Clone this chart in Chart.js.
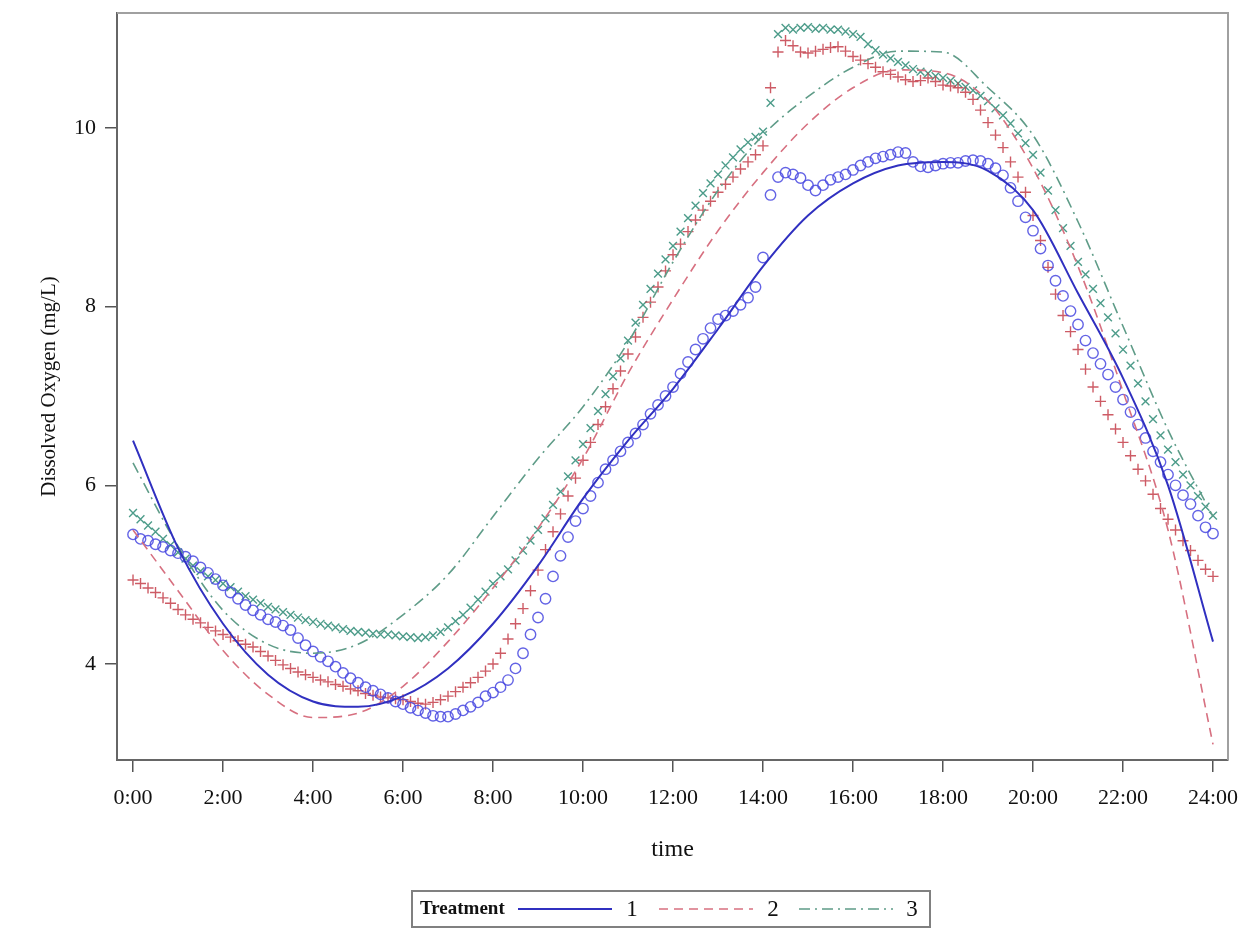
<!DOCTYPE html>
<html>
<head>
<meta charset="utf-8">
<title>Dissolved Oxygen by Treatment</title>
<script src="https://cdn.jsdelivr.net/npm/chart.js@4.4.1/dist/chart.umd.min.js"></script>
<style>
  html, body { margin: 0; padding: 0; background: #fff; }
  #wrap { width: 1258px; height: 944px; }
</style>
</head>
<body>
<div id="wrap"><canvas id="doChart" width="1258" height="944"></canvas></div>
<script>
/* sampling times of the logger, minutes after midnight */
const sampleMinutes = [
  0, 10, 20, 30, 40, 50, 60, 70, 80, 90, 100, 110,
  120, 130, 140, 150, 160, 170, 180, 190, 200, 210, 220, 230,
  240, 250, 260, 270, 280, 290, 300, 310, 320, 330, 340, 350,
  360, 370, 380, 390, 400, 410, 420, 430, 440, 450, 460, 470,
  480, 490, 500, 510, 520, 530, 540, 550, 560, 570, 580, 590,
  600, 610, 620, 630, 640, 650, 660, 670, 680, 690, 700, 710,
  720, 730, 740, 750, 760, 770, 780, 790, 800, 810, 820, 830,
  840, 850, 860, 870, 880, 890, 900, 910, 920, 930, 940, 950,
  960, 970, 980, 990, 1000, 1010, 1020, 1030, 1040, 1050, 1060, 1070,
  1080, 1090, 1100, 1110, 1120, 1130, 1140, 1150, 1160, 1170, 1180, 1190,
  1200, 1210, 1220, 1230, 1240, 1250, 1260, 1270, 1280, 1290, 1300, 1310,
  1320, 1330, 1340, 1350, 1360, 1370, 1380, 1390, 1400, 1410, 1420, 1430,
  1440
];

/* measured dissolved oxygen (mg/L), one row per hour */
const treatment1DO = [
  5.45, 5.40, 5.38, 5.34, 5.31, 5.27,
  5.24, 5.20, 5.15, 5.08, 5.02, 4.95,
  4.88, 4.80, 4.73, 4.66, 4.60, 4.55,
  4.50, 4.47, 4.43, 4.38, 4.29, 4.21,
  4.14, 4.08, 4.03, 3.97, 3.90, 3.84,
  3.79, 3.74, 3.70, 3.66, 3.62, 3.58,
  3.55, 3.51, 3.48, 3.45, 3.42, 3.41,
  3.41, 3.44, 3.48, 3.52, 3.57, 3.64,
  3.68, 3.74, 3.82, 3.95, 4.12, 4.33,
  4.52, 4.73, 4.98, 5.21, 5.42, 5.60,
  5.74, 5.88, 6.03, 6.18, 6.28, 6.38,
  6.48, 6.58, 6.68, 6.80, 6.90, 7.00,
  7.10, 7.25, 7.38, 7.52, 7.64, 7.76,
  7.86, 7.90, 7.95, 8.02, 8.10, 8.22,
  8.55, 9.25, 9.45, 9.50, 9.48, 9.44,
  9.36, 9.30, 9.36, 9.42, 9.45, 9.48,
  9.53, 9.58, 9.62, 9.66, 9.68, 9.70,
  9.73, 9.72, 9.62, 9.57, 9.56, 9.58,
  9.60, 9.61, 9.61, 9.63, 9.64, 9.63,
  9.60, 9.55, 9.47, 9.33, 9.18, 9.00,
  8.85, 8.65, 8.46, 8.29, 8.12, 7.95,
  7.80, 7.62, 7.48, 7.36, 7.24, 7.10,
  6.96, 6.82, 6.68, 6.53, 6.38, 6.26,
  6.12, 6.00, 5.89, 5.79, 5.66, 5.53,
  5.46
];

const treatment2DO = [
  4.94, 4.90, 4.85, 4.80, 4.74, 4.68,
  4.61, 4.55, 4.50, 4.46, 4.41, 4.37,
  4.33, 4.30, 4.26, 4.22, 4.19, 4.14,
  4.09, 4.04, 3.99, 3.95, 3.91, 3.88,
  3.85, 3.82, 3.80, 3.77, 3.75, 3.72,
  3.70, 3.67, 3.65, 3.63, 3.62, 3.61,
  3.60, 3.58, 3.56, 3.55, 3.57, 3.60,
  3.64, 3.69, 3.74, 3.79, 3.85, 3.92,
  4.00, 4.12, 4.28, 4.45, 4.62, 4.82,
  5.05, 5.28, 5.48, 5.68, 5.88, 6.08,
  6.28, 6.48, 6.68, 6.88, 7.08, 7.28,
  7.47, 7.66, 7.88, 8.05, 8.22, 8.40,
  8.58, 8.70, 8.84, 8.97, 9.08, 9.18,
  9.28, 9.37, 9.45, 9.54, 9.62, 9.70,
  9.80, 10.45, 10.85, 10.98, 10.92, 10.85,
  10.84, 10.86, 10.88, 10.90, 10.91, 10.86,
  10.80, 10.76, 10.72, 10.68, 10.63, 10.60,
  10.57, 10.54, 10.52, 10.53, 10.56, 10.52,
  10.48, 10.47, 10.45, 10.40, 10.32, 10.20,
  10.06, 9.92, 9.78, 9.62, 9.45, 9.28,
  9.02, 8.74, 8.44, 8.14, 7.90, 7.72,
  7.52, 7.30, 7.10, 6.94, 6.79, 6.63,
  6.48, 6.33, 6.18, 6.05, 5.90, 5.74,
  5.62, 5.50, 5.38, 5.27, 5.16, 5.06,
  4.98
];

const treatment3DO = [
  5.69, 5.62, 5.55, 5.48, 5.40, 5.33,
  5.25, 5.18, 5.10, 5.04, 4.98, 4.94,
  4.90, 4.86, 4.81, 4.76, 4.72, 4.68,
  4.64, 4.61, 4.58, 4.55, 4.52, 4.49,
  4.47, 4.45, 4.43, 4.41, 4.39, 4.37,
  4.36, 4.35, 4.34, 4.33, 4.33, 4.32,
  4.31, 4.30, 4.29, 4.30, 4.32, 4.36,
  4.41, 4.48, 4.55, 4.63, 4.72, 4.81,
  4.90, 4.98, 5.06, 5.16, 5.27, 5.38,
  5.50, 5.63, 5.78, 5.93, 6.10, 6.28,
  6.46, 6.64, 6.83, 7.02, 7.22, 7.42,
  7.62, 7.82, 8.02, 8.20, 8.37, 8.53,
  8.68, 8.84, 8.99, 9.13, 9.27, 9.38,
  9.48, 9.58, 9.67, 9.76, 9.84, 9.90,
  9.96, 10.28, 11.05, 11.12, 11.10, 11.12,
  11.13, 11.11, 11.12, 11.10, 11.10, 11.08,
  11.05, 11.02, 10.94, 10.87, 10.82, 10.78,
  10.74, 10.70, 10.66, 10.63, 10.61, 10.58,
  10.56, 10.53, 10.50, 10.46, 10.42, 10.36,
  10.30, 10.22, 10.14, 10.05, 9.94, 9.83,
  9.70, 9.50, 9.30, 9.08, 8.88, 8.68,
  8.50, 8.36, 8.20, 8.04, 7.88, 7.70,
  7.52, 7.34, 7.14, 6.94, 6.74, 6.56,
  6.40, 6.26, 6.12, 6.00, 5.88, 5.76,
  5.66
];

/* fitted curves, read hourly */
const fitHours = [0, 1, 2, 3, 4, 5, 6, 7, 8, 9, 10, 11, 12, 13, 14, 15, 16, 17, 18, 19, 20, 21, 22, 23, 24];
const treatment1Fit = [6.50, 5.30, 4.45, 3.88, 3.58, 3.52, 3.64, 3.95, 4.45, 5.10, 5.85, 6.50, 7.08, 7.75, 8.45, 9.02, 9.38, 9.58, 9.62, 9.52, 9.08, 8.15, 7.20, 6.00, 4.25];
const treatment2Fit = [5.50, 4.82, 4.15, 3.66, 3.40, 3.45, 3.75, 4.25, 4.85, 5.52, 6.30, 7.25, 8.08, 8.85, 9.50, 10.05, 10.45, 10.65, 10.62, 10.30, 9.55, 8.45, 7.05, 5.50, 3.10];
const treatment3Fit = [6.25, 5.32, 4.60, 4.22, 4.12, 4.22, 4.55, 5.00, 5.65, 6.30, 6.88, 7.60, 8.50, 9.30, 9.92, 10.35, 10.68, 10.86, 10.85, 10.45, 9.92, 8.95, 7.78, 6.62, 5.65];

const treatmentNames = ['1', '2', '3'];
const xTickHours = [0, 2, 4, 6, 8, 10, 12, 14, 16, 18, 20, 22, 24];
const timeTickLabels = ['0:00', '2:00', '4:00', '6:00', '8:00', '10:00', '12:00', '14:00', '16:00', '18:00', '20:00', '22:00', '24:00'];
const yTickValues = [4, 6, 8, 10];

const serif = '"Liberation Serif", "DejaVu Serif", serif';

function toPoints(hours, values) {
    return values.map((v, i) => ({ x: hours[i], y: v }));
}
const sampleHours = sampleMinutes.map(m => m / 60);

/* frame: top and right edges of the plot box */
const plotFrame = {
    id: 'plotFrame',
    beforeDatasetsDraw(chart) {
        const { ctx, chartArea: a } = chart;
        ctx.save();
        ctx.strokeStyle = '#a0a0a0';
        ctx.lineWidth = 2;
        ctx.beginPath();
        ctx.moveTo(a.left, a.top);
        ctx.lineTo(a.right, a.top);
        ctx.lineTo(a.right, a.bottom);
        ctx.stroke();
        ctx.restore();
    }
};

/* SAS-style legend row: "Treatment" then a line sample per fit */
const treatmentLegend = {
    id: 'treatmentLegend',
    afterDraw(chart) {
        const ctx = chart.ctx;
        const fits = chart.data.datasets.filter(d => d.isFit);
        const sampleX = [518, 659, 799];
        const labelX = [632, 773, 912];
        const midY = 909;
        ctx.save();
        ctx.strokeStyle = '#808080';
        ctx.lineWidth = 2;
        ctx.strokeRect(412, 891, 518, 36);
        ctx.fillStyle = '#111';
        ctx.textBaseline = 'middle';
        ctx.font = 'bold 19px ' + serif;
        ctx.fillText('Treatment', 420, midY, 88);
        fits.forEach((d, i) => {
            ctx.strokeStyle = d.borderColor;
            ctx.lineWidth = d.borderWidth;
            ctx.setLineDash(d.borderDash || []);
            ctx.beginPath();
            ctx.moveTo(sampleX[i], midY);
            ctx.lineTo(sampleX[i] + 94, midY);
            ctx.stroke();
            ctx.setLineDash([]);
            ctx.font = '23px ' + serif;
            ctx.textAlign = 'center';
            ctx.fillText(d.label, labelX[i], midY + 1);
            ctx.textAlign = 'left';
        });
        ctx.restore();
    }
};

const markerStyle = (color, shape, radius) => ({
    showLine: false,
    pointStyle: shape,
    pointRadius: radius,
    pointBorderWidth: 1.4,
    pointBorderColor: color,
    pointBackgroundColor: 'rgba(0,0,0,0)',
    borderColor: color,
    backgroundColor: 'rgba(0,0,0,0)',
});

const fitStyle = (color, dash, width) => ({
    isFit: true,
    showLine: true,
    pointRadius: 0,
    borderColor: color,
    borderWidth: width,
    borderDash: dash,
    cubicInterpolationMode: 'monotone',
    fill: false,
    order: 0,
});

new Chart(document.getElementById('doChart'), {
    type: 'scatter',
    data: {
        datasets: [
            { label: 'obs 3', data: toPoints(sampleHours, treatment3DO), ...markerStyle('rgba(46,139,118,0.85)', 'crossRot', 5.5), order: 3 },
            { label: 'obs 2', data: toPoints(sampleHours, treatment2DO), ...markerStyle('rgba(196,62,74,0.85)', 'cross', 5.5), order: 2 },
            { label: 'obs 1', data: toPoints(sampleHours, treatment1DO), ...markerStyle('rgba(72,72,225,0.85)', 'circle', 5.2), order: 1 },
            { label: treatmentNames[0], data: toPoints(fitHours, treatment1Fit), ...fitStyle('#3030c0', [], 2) },
            { label: treatmentNames[1], data: toPoints(fitHours, treatment2Fit), ...fitStyle('#d77080', [9, 6], 1.6) },
            { label: treatmentNames[2], data: toPoints(fitHours, treatment3Fit), ...fitStyle('#5f9c88', [11, 5, 2, 5], 1.6) },
        ],
    },
    options: {
        responsive: false,
        animation: false,
        devicePixelRatio: 1,
        layout: { padding: { left: 0, right: 30, top: 13, bottom: 0 } },
        plugins: {
            legend: { display: false },
            tooltip: { enabled: false },
        },
        scales: {
            x: {
                type: 'linear',
                min: -0.356,
                max: 24.333,
                afterBuildTicks: scale => { scale.ticks = xTickHours.map(v => ({ value: v })); },
                afterFit: scale => { scale.height = 184; },
                ticks: {
                    callback: (value) => timeTickLabels[xTickHours.indexOf(value)],
                    color: '#111',
                    font: { family: serif, size: 22 },
                    padding: 13,
                    maxRotation: 0,
                    autoSkip: false,
                },
                grid: { display: true, drawOnChartArea: false, drawTicks: true, tickLength: 12, color: '#555', lineWidth: 1.5 },
                border: { display: true, color: '#666', width: 2 },
                title: {
                    display: true,
                    text: 'time',
                    color: '#111',
                    font: { family: serif, size: 24 },
                    padding: { top: 0, bottom: 80 },
                },
            },
            y: {
                type: 'linear',
                min: 2.925,
                max: 11.287,
                afterBuildTicks: scale => { scale.ticks = yTickValues.map(v => ({ value: v })); },
                afterFit: scale => {
                    scale.width = 117;
                    scale.paddingTop = 0;
                    scale.paddingBottom = 0;
                },
                ticks: {
                    color: '#111',
                    font: { family: serif, size: 22 },
                    padding: 9,
                },
                grid: { display: true, drawOnChartArea: false, drawTicks: true, tickLength: 12, color: '#555', lineWidth: 1.5 },
                border: { display: true, color: '#666', width: 2 },
                title: {
                    display: true,
                    text: 'Dissolved Oxygen (mg/L)',
                    color: '#111',
                    font: { family: serif, size: 21 },
                    padding: { top: 37, bottom: 0 },
                },
            },
        },
    },
    plugins: [plotFrame, treatmentLegend],
});
</script>
</body>
</html>
